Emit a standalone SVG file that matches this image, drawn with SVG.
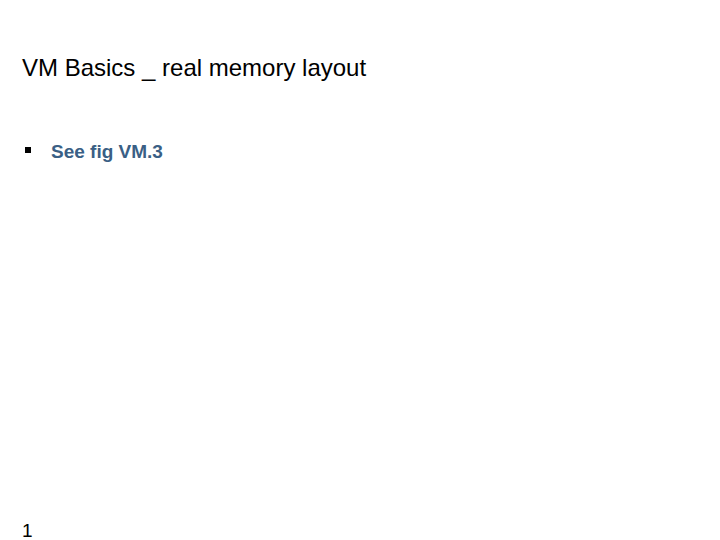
<svg xmlns="http://www.w3.org/2000/svg" width="720" height="540" viewBox="0 0 720 540">
<rect width="720" height="540" fill="#fff"/>
<text x="22" y="76" font-family="Liberation Sans, Arial, sans-serif" font-size="24" fill="#000">VM Basics _ real memory layout</text>
<rect x="25" y="147" width="6" height="6" fill="#000"/>
<text x="51" y="158" font-family="Liberation Sans, Arial, sans-serif" font-size="19" font-weight="bold" fill="#3a5f85">See fig VM.3</text>
<text x="22" y="537" font-family="Liberation Sans, Arial, sans-serif" font-size="19" fill="#000">1</text>
</svg>
